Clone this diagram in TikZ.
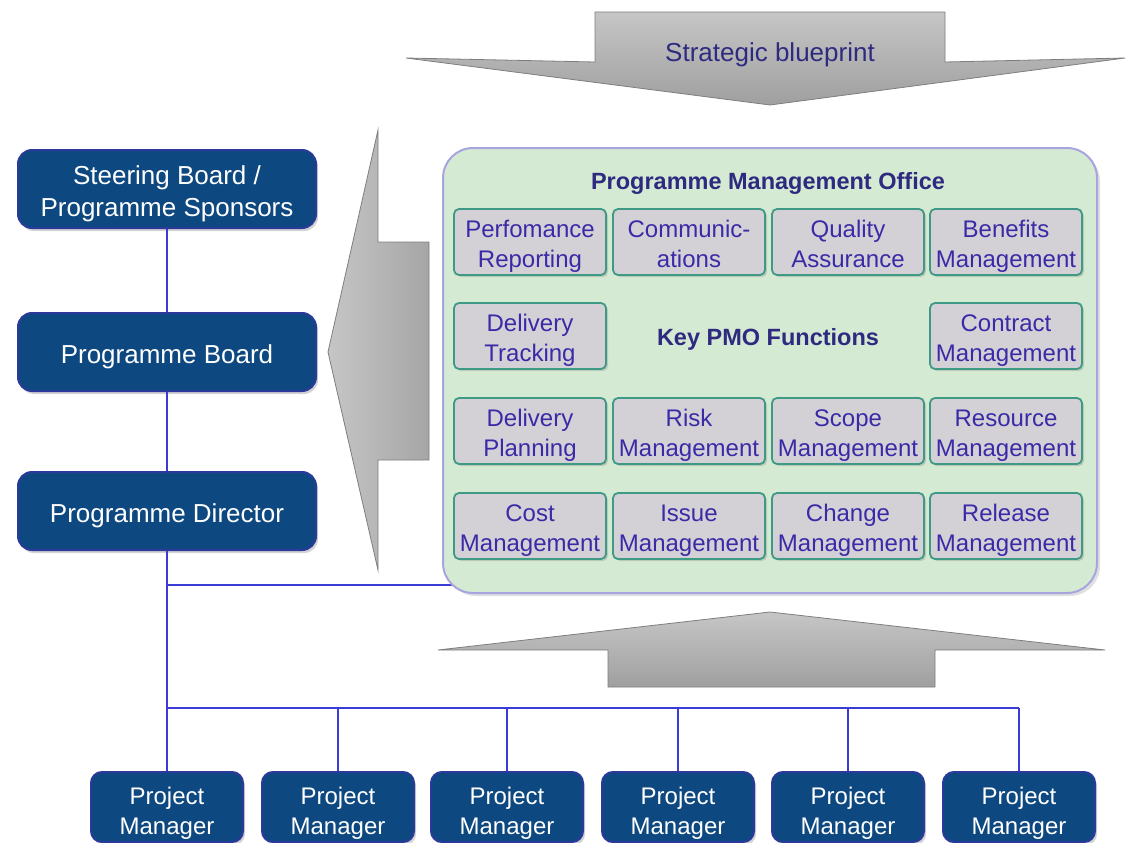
\documentclass[tikz,border=0pt]{standalone}
\usepackage{fontspec}
\setmainfont{Liberation Sans}
\usetikzlibrary{shadows}
\definecolor{dblue}{HTML}{0D4880}
\definecolor{dborder}{HTML}{2B3A9A}
\definecolor{conncol}{HTML}{3B3BD6}
\definecolor{pmofill}{HTML}{D5EAD3}
\definecolor{pmoborder}{HTML}{A8A4E0}
\definecolor{fnfill}{HTML}{D3D1D5}
\definecolor{fnborder}{HTML}{3F9A85}
\definecolor{fntext}{HTML}{3A2AA8}
\definecolor{ttltext}{HTML}{2E2A80}
\definecolor{arrowedge}{HTML}{7E7E7E}
\newcommand\lowtxt[2]{\raisebox{#1}[\height][\depth]{\begin{tabular}{@{}c@{}}#2\end{tabular}}}
\begin{document}
\begin{tikzpicture}[x=1pt,y=-1pt,
  darkbox/.style={rounded corners=14pt, fill=dblue, draw=dborder, line width=2pt,
    text=white, align=center, minimum width=298pt, minimum height=78pt, inner sep=0pt,
    font=\fontsize{26}{32}\selectfont,
    drop shadow={shadow xshift=2pt,shadow yshift=-3pt,opacity=0.35}},
  pmbox/.style={darkbox, minimum width=152pt, minimum height=70pt, rounded corners=11pt,
    font=\fontsize{24}{30}\selectfont},
  fnbox/.style={rounded corners=5pt, fill=fnfill, draw=fnborder, line width=1.8pt,
    text=fntext, align=center, minimum width=152pt, minimum height=66pt, inner sep=0pt,
    font=\fontsize{24}{30}\selectfont,
    drop shadow={shadow xshift=2pt,shadow yshift=-2pt,opacity=0.3}},
  pmo/.style={rounded corners=30pt, fill=pmofill, draw=pmoborder, line width=2pt,
    minimum width=654pt, minimum height=445pt, inner sep=0pt,
    drop shadow={shadow xshift=3pt,shadow yshift=-3pt,opacity=0.25}},
  ttl/.style={text=ttltext, font=\bfseries\fontsize{23.5}{26}\selectfont, inner sep=0pt},
  conn/.style={draw=conncol, line width=2pt},
  bigarrow/.style={draw=arrowedge, line width=0.8pt, top color=gray!45, bottom color=gray!75}
]
\useasboundingbox (0,0) rectangle (1128,843);

% big grey arrows
\shade[bigarrow] (595,12) -- (945,12) -- (945,62) -- (1125,58) -- (770,105) -- (406,58) -- (595,62) -- cycle;
\node[text=ttltext, font=\fontsize{26}{30}\selectfont, inner sep=0pt] (sb) at (770,55) {Strategic blueprint};
\shade[bigarrow, left color=gray!45, right color=gray!70] (429,242) -- (429,460) -- (378,460) -- (378,570) -- (328,352) -- (378,130) -- (378,242) -- cycle;
\shade[bigarrow] (608,687) -- (935,687) -- (935,650) -- (1105,650) -- (770,612) -- (438,650) -- (608,650) -- cycle;

% left hierarchy
\node[darkbox] (steer) at (167,189) {\lowtxt{-5pt}{Steering Board /\\Programme Sponsors}};
\node[darkbox] (board) at (167,352) {\lowtxt{-5pt}{Programme Board}};
\node[darkbox] (dir) at (167,511) {\lowtxt{-5pt}{Programme Director}};

% project managers
\foreach \i/\x in {1/167,2/338,3/507,4/678,5/848,6/1019}{
  \node[pmbox] (pm\i) at (\x,807) {\lowtxt{-6pt}{Project\\Manager}};
}

\coordinate (j1) at (167,585);
\coordinate (pmoL) at (456,585);
\coordinate (bus) at (167,708);
\coordinate (busR) at (1019,708);

\draw[conn] (steer.south) -- (board.north);
\draw[conn] (board.south) -- (dir.north);
\draw[conn] (dir.south) -- (j1) -- (bus) -- (pm1.north);
\draw[conn] (j1) -- (pmoL);
\draw[conn] (bus) -- (busR);
\foreach \i in {2,...,6}{
  \draw[conn] (pm\i.north |- bus) -- (pm\i.north);
}

% PMO
\node[pmo] (pmo) at (770,370.5) {};
\node[ttl] (pmotitle) at (768,183) {Programme Management Office};
\node[ttl] (key) at (768,339) {Key PMO Functions};

\node[fnbox] (f11) at (530,242) {\lowtxt{-4pt}{Perfomance\\Reporting}};
\node[fnbox] (f12) at (689,242) {\lowtxt{-4pt}{Communic-\\ations}};
\node[fnbox] (f13) at (848,242) {\lowtxt{-4pt}{Quality\\Assurance}};
\node[fnbox] (f14) at (1006,242) {\lowtxt{-4pt}{Benefits\\Management}};

\node[fnbox] (f21) at (530,336) {\lowtxt{-4pt}{Delivery\\Tracking}};
\node[fnbox] (f24) at (1006,336) {\lowtxt{-4pt}{Contract\\Management}};

\node[fnbox] (f31) at (530,431) {\lowtxt{-4pt}{Delivery\\Planning}};
\node[fnbox] (f32) at (689,431) {\lowtxt{-4pt}{Risk\\Management}};
\node[fnbox] (f33) at (848,431) {\lowtxt{-4pt}{Scope\\Management}};
\node[fnbox] (f34) at (1006,431) {\lowtxt{-4pt}{Resource\\Management}};

\node[fnbox] (f41) at (530,526) {\lowtxt{-4pt}{Cost\\Management}};
\node[fnbox] (f42) at (689,526) {\lowtxt{-4pt}{Issue\\Management}};
\node[fnbox] (f43) at (848,526) {\lowtxt{-4pt}{Change\\Management}};
\node[fnbox] (f44) at (1006,526) {\lowtxt{-4pt}{Release\\Management}};
\end{tikzpicture}
\end{document}
